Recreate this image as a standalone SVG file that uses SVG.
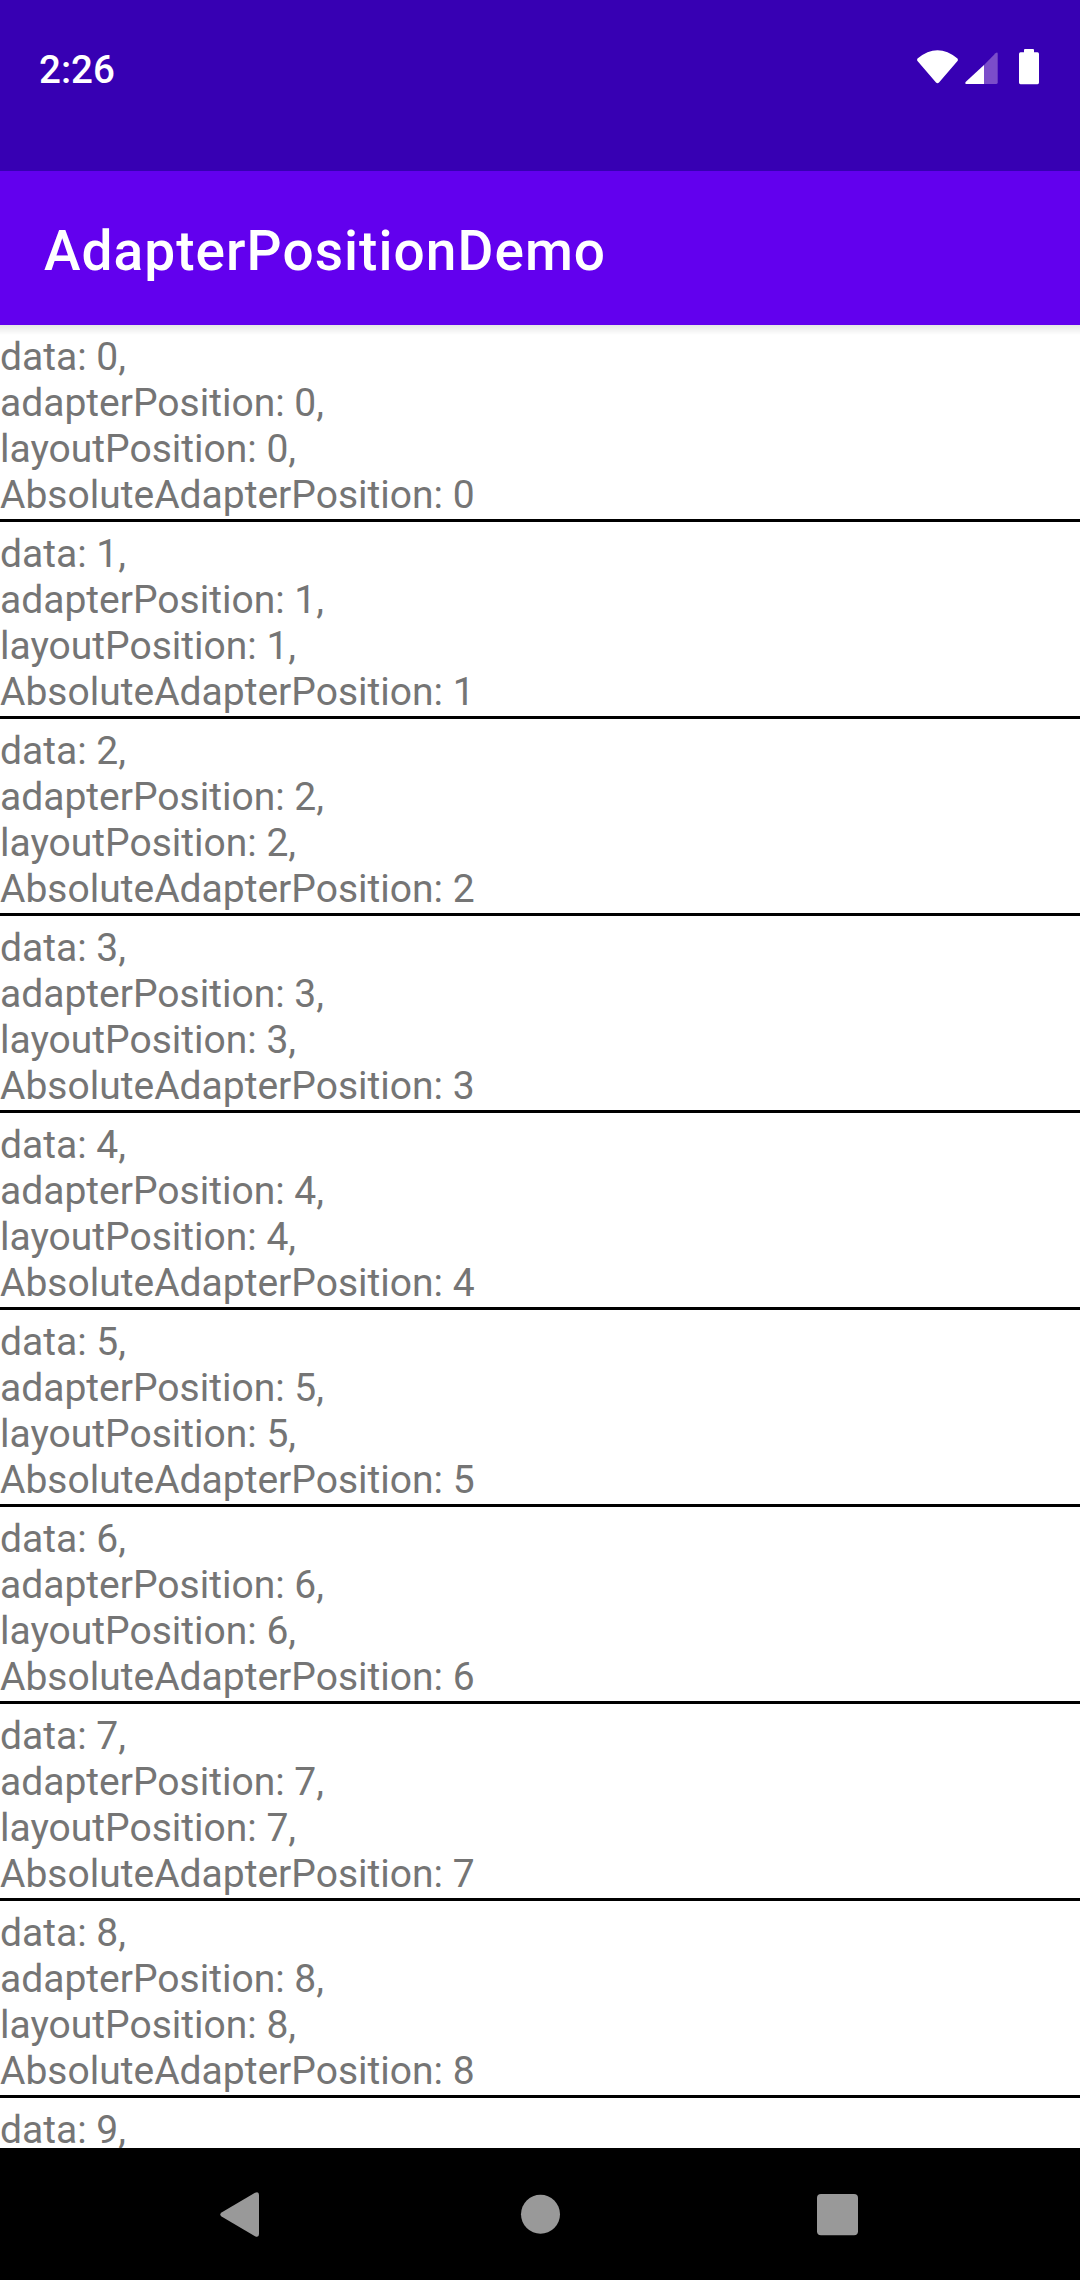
<svg xmlns="http://www.w3.org/2000/svg" width="1080" height="2280" viewBox="0 0 1080 2280">
<style>
text{font-family:Roboto,"Liberation Sans",sans-serif}
.r text{font-size:39px;fill:#757575}
.d{fill:#000}
.w{fill:#fff}
.n{fill:#999}
</style>
<defs>
<linearGradient id="sh" x1="0" y1="0" x2="0" y2="1"><stop offset="0" stop-color="#000" stop-opacity=".1"/><stop offset="1" stop-color="#000" stop-opacity="0"/></linearGradient>
</defs>
<rect width="1080" height="2280" fill="#fff"/>
<g id="rows">
<g id="row0" class="r"><text x="0" y="370">data: 0,</text><text x="0" y="416">adapterPosition: 0,</text><text x="0" y="462">layoutPosition: 0,</text><text x="0" y="508">AbsoluteAdapterPosition: 0</text><rect class="d" y="519" width="1080" height="3"/></g>
<g id="row1" class="r"><text x="0" y="567">data: 1,</text><text x="0" y="613">adapterPosition: 1,</text><text x="0" y="659">layoutPosition: 1,</text><text x="0" y="705">AbsoluteAdapterPosition: 1</text><rect class="d" y="716" width="1080" height="3"/></g>
<g id="row2" class="r"><text x="0" y="764">data: 2,</text><text x="0" y="810">adapterPosition: 2,</text><text x="0" y="856">layoutPosition: 2,</text><text x="0" y="902">AbsoluteAdapterPosition: 2</text><rect class="d" y="913" width="1080" height="3"/></g>
<g id="row3" class="r"><text x="0" y="961">data: 3,</text><text x="0" y="1007">adapterPosition: 3,</text><text x="0" y="1053">layoutPosition: 3,</text><text x="0" y="1099">AbsoluteAdapterPosition: 3</text><rect class="d" y="1110" width="1080" height="3"/></g>
<g id="row4" class="r"><text x="0" y="1158">data: 4,</text><text x="0" y="1204">adapterPosition: 4,</text><text x="0" y="1250">layoutPosition: 4,</text><text x="0" y="1296">AbsoluteAdapterPosition: 4</text><rect class="d" y="1307" width="1080" height="3"/></g>
<g id="row5" class="r"><text x="0" y="1355">data: 5,</text><text x="0" y="1401">adapterPosition: 5,</text><text x="0" y="1447">layoutPosition: 5,</text><text x="0" y="1493">AbsoluteAdapterPosition: 5</text><rect class="d" y="1504" width="1080" height="3"/></g>
<g id="row6" class="r"><text x="0" y="1552">data: 6,</text><text x="0" y="1598">adapterPosition: 6,</text><text x="0" y="1644">layoutPosition: 6,</text><text x="0" y="1690">AbsoluteAdapterPosition: 6</text><rect class="d" y="1701" width="1080" height="3"/></g>
<g id="row7" class="r"><text x="0" y="1749">data: 7,</text><text x="0" y="1795">adapterPosition: 7,</text><text x="0" y="1841">layoutPosition: 7,</text><text x="0" y="1887">AbsoluteAdapterPosition: 7</text><rect class="d" y="1898" width="1080" height="3"/></g>
<g id="row8" class="r"><text x="0" y="1946">data: 8,</text><text x="0" y="1992">adapterPosition: 8,</text><text x="0" y="2038">layoutPosition: 8,</text><text x="0" y="2084">AbsoluteAdapterPosition: 8</text><rect class="d" y="2095" width="1080" height="3"/></g>
<g id="row9" class="r"><text x="0" y="2143">data: 9,</text></g>
</g>
<g id="statusbar">
<rect width="1080" height="171" fill="#3700b3"/>
<text x="39" y="82.5" font-size="38.5" font-weight="500" fill="#fff">2:26</text>
<path class="w" d="M917.5 58.5Q937.5 42 957.5 58.5Q958.5 60 957.5 61L939 82.5Q937.5 84 936 82.5L917.5 61Q916.5 60 917.5 58.5Z" id="wifi"/>
<path d="M984 84V65L995.5 53.2Q997.7 51.5 997.7 54V82.5Q997.7 84 996 84Z" fill="#7b4dca"/>
<path class="w" d="M984 65L965.6 82Q964.5 84 967 84H984Z"/>
<path class="w" d="M1024 52.3V50Q1024 49 1025 49H1033Q1034 49 1034 50V52.3H1037.5Q1039 52.3 1039 54V82.5Q1039 84.3 1037.5 84.3H1020.5Q1019 84.3 1019 82.5V54Q1019 52.3 1020.5 52.3Z"/>
</g>
<g id="toolbar">
<rect y="171" width="1080" height="154" fill="#6200ee"/>
<rect y="325" width="1080" height="10" fill="url(#sh)"/>
<text x="44" y="270" font-size="55" font-weight="500" letter-spacing="1.05" fill="#fff">AdapterPositionDemo</text>
</g>
<g id="navbar">
<rect y="2148" width="1080" height="132" fill="#000"/>
<path class="n" d="M221.5 2212.5L255 2192.8Q259 2191 259 2195V2234Q259 2238 255 2236.2L221.5 2216.5Q219 2214.5 221.5 2212.5Z"/>
<circle class="n" cx="540.5" cy="2214.3" r="19.5"/>
<rect class="n" x="817" y="2194" width="41" height="41.3" rx="4"/>
</g>
</svg>
